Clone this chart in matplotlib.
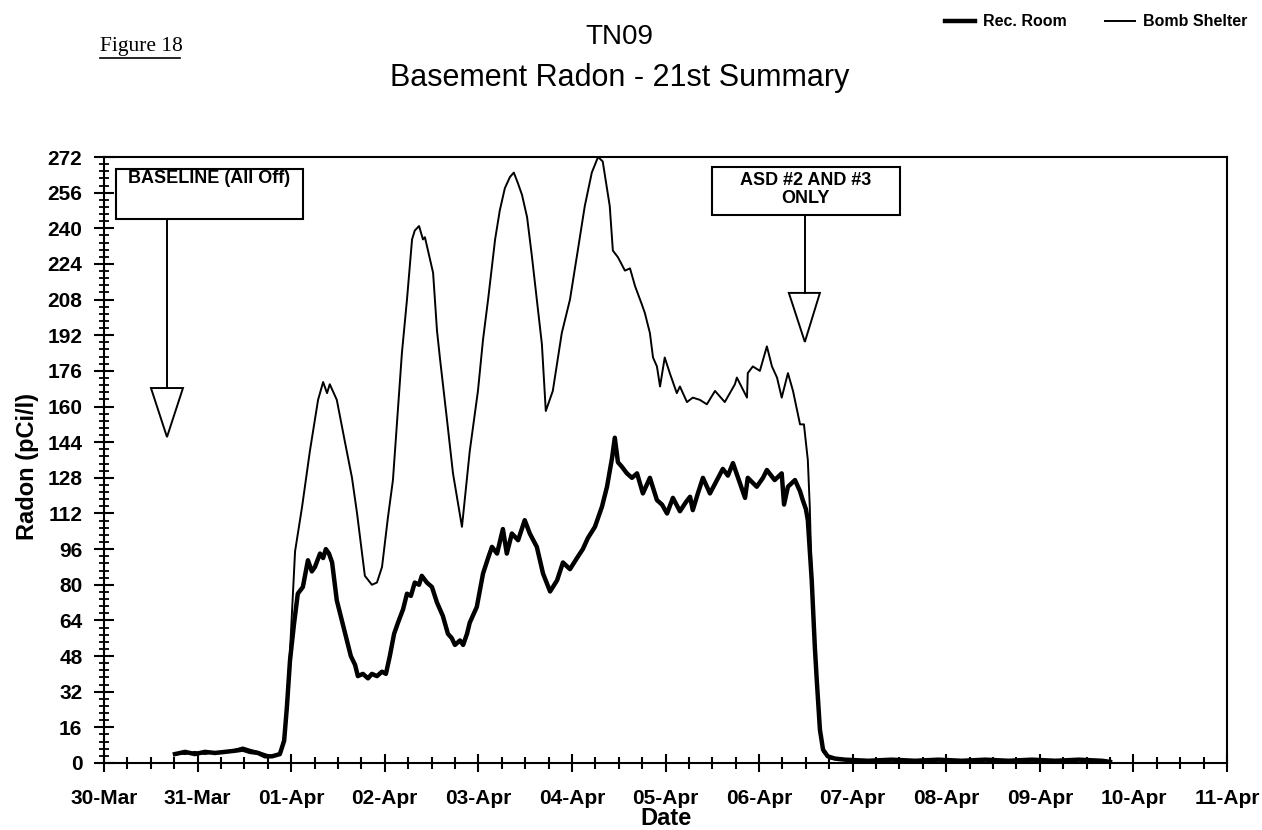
import matplotlib
matplotlib.use("Agg")
import matplotlib.pyplot as plt
from matplotlib.patches import Rectangle, Polygon
from matplotlib.ticker import FixedLocator, MultipleLocator, AutoMinorLocator
import numpy as np

plt.rcParams['font.family'] = ['Liberation Sans', 'DejaVu Sans']

# hours after 30-Mar 00:00
rec_hours = [18.2, 20.8, 23.3, 25.9, 28.5, 31.0, 33.6, 35.6, 37.4, 39.5, 41.3, 43.1, 45.1,
             46.2, 46.9, 47.7, 48.7, 49.7, 51.0, 52.3, 53.3, 54.1, 55.4, 56.2, 56.9, 57.7,
             58.5, 59.7, 61.0, 62.3, 63.3, 64.4, 65.1, 66.4, 67.7, 68.7, 70.0, 71.3, 72.3,
             73.3, 74.4, 75.4, 76.7, 77.7, 78.7, 79.7, 80.8, 81.5, 82.8, 84.1, 85.4, 86.9,
             88.2, 89.2, 90.0, 91.3, 92.1, 93.1, 93.8, 95.6, 97.2, 98.5, 99.5, 100.8, 102.3,
             103.3, 104.6, 106.2, 107.9, 109.2, 111.0, 112.6, 114.4, 116.2, 117.7, 119.5,
             121.3, 122.8, 124.1, 125.9, 127.7, 129.0, 130.3, 131.0, 131.8, 132.8, 134.1,
             135.4, 136.7, 138.2, 140.0, 141.8, 143.1, 144.4, 145.9, 147.7, 149.2, 150.3,
             151.0, 152.3, 153.6, 155.4, 156.9, 158.7, 160.0, 161.3, 162.6, 164.4, 165.1,
             167.4, 169.0, 170.0, 172.0, 173.8, 174.4, 175.4, 177.2, 178.5, 179.2, 180.0,
             180.5, 181.5, 182.3, 182.8, 183.6, 184.4, 185.6, 187.4, 190, 196, 202, 208,
             214, 220, 226, 232, 238, 244, 250, 256, 258]
rec_room = [4, 5, 4, 5, 4.5, 5, 5.5, 6, 5, 4.5, 3, 3, 4,
            10, 25, 46, 62, 76, 79, 91, 86, 88, 94, 92, 96, 94,
            90, 73, 64, 55, 48, 44, 39, 40, 38, 40, 39, 41, 40,
            48, 58, 63, 69, 76, 75, 81, 80, 84, 81, 79, 72, 66,
            58, 56, 53, 55, 53, 58, 63, 70, 85, 92, 97, 94, 105,
            94, 103, 100, 109, 103, 97, 85, 77, 82, 90, 87,
            92, 96, 101, 106, 115, 124, 137, 146, 135, 133, 130,
            128, 130, 121, 128, 118, 116, 112, 119, 113, 117, 119.5,
            113.5, 121, 128, 121, 126, 132, 129, 134.6, 128, 119, 128,
            124, 128, 131.5, 127, 130, 116, 124, 127, 122, 118, 114,
            109, 82, 52, 37, 15, 6, 3, 2, 1.5, 1, 1.5, 1,
            1.5, 1, 1.5, 1, 1.5, 1, 1.5, 1, 0.5]

bomb_hours = [18.2, 20.8, 23.3, 25.9, 28.5, 31.0, 33.6, 35.6, 37.4, 39.5, 41.3, 43.1, 45.1,
              46.2, 46.9, 47.7, 49.0, 50.8, 52.8, 54.9, 56.2, 57.2, 57.9, 59.7, 61.8, 63.6,
              64.9, 66.9, 68.7, 70.0, 71.3, 72.8, 74.1, 76.4, 77.7, 79.0, 79.7, 80.8, 81.8,
              82.3, 84.4, 85.4, 86.2, 87.9, 89.5, 91.8, 93.8, 95.9, 97.2, 98.5, 100.3, 101.5,
              102.8, 104.1, 105.1, 106.2, 107.2, 108.5, 109.7, 111.0, 112.3, 113.3, 115.1,
              117.4, 119.5, 121.5, 123.3, 125.1, 126.7, 127.9, 129.7, 130.5, 131.8, 133.6,
              134.9, 136.2, 137.9, 138.7, 140.0, 140.8, 141.8, 142.6, 143.8, 145.1, 146.9,
              147.7, 149.5, 151.0, 152.8, 154.6, 156.7, 159.2, 161.8, 162.3, 164.9, 165.1,
              166.4, 168.2, 170.0, 171.3, 172.6, 173.8, 175.4, 176.7, 178.5, 179.5, 180.5,
              181.0, 181.5, 182.3, 182.8, 183.6, 184.4, 186.2, 190, 196, 202, 208, 214, 220,
              226, 232, 238, 244, 250, 256, 258]
bomb_shelter = [4.5, 4, 5, 4, 5, 5, 6, 7, 6, 5, 4, 3, 4,
                12, 28, 50, 95, 115, 140, 163, 171, 166, 170, 163, 144, 128,
                112, 84, 80, 81, 88, 110, 127, 184, 208, 235, 239, 241, 235,
                236, 220, 194, 181, 155, 130, 106, 140, 167, 190, 208, 235, 248,
                258, 263, 265, 260, 255, 245, 228, 208, 188, 158, 167,
                193, 208, 230, 250, 265, 272, 270, 250, 230, 227, 221,
                222, 214, 206, 202, 193, 182, 178, 169, 182, 175, 166,
                169, 162, 164, 163, 161, 167, 162, 170, 173, 164, 175,
                178, 176, 187, 178, 173, 164, 175, 167, 152, 152, 136,
                115, 82, 52, 37, 15, 5, 2, 1.5, 1, 1.5, 1, 1.5, 1,
                1.5, 1, 1.5, 1, 1.5, 1, 0.5]

day_labels = ['30-Mar', '31-Mar', '01-Apr', '02-Apr', '03-Apr', '04-Apr', '05-Apr',
              '06-Apr', '07-Apr', '08-Apr', '09-Apr', '10-Apr', '11-Apr']
y_ticks = list(range(0, 273, 16))

fig = plt.figure(figsize=(12.62, 8.30), dpi=100)
ax = fig.add_axes([104/1262, 1 - 763/830, (1227 - 104)/1262, (763 - 157)/830])

rec_days = np.array(rec_hours) / 24.0
bomb_days = np.array(bomb_hours) / 24.0
l1, = ax.plot(rec_days, rec_room, color='black', lw=3.2, solid_joinstyle='round', label='Rec. Room')
l2, = ax.plot(bomb_days, bomb_shelter, color='black', lw=1.4, label='Bomb Shelter')

ax.set_xlim(0, 12)
ax.set_ylim(0, 272)
ax.xaxis.set_major_locator(FixedLocator(range(len(day_labels))))
ax.set_xticklabels(day_labels)
ax.xaxis.set_minor_locator(MultipleLocator(0.25))
ax.set_yticks(y_ticks)
ax.yaxis.set_minor_locator(AutoMinorLocator(5))

for s in ax.spines.values():
    s.set_linewidth(1.5)
ax.tick_params(axis='x', which='major', direction='inout', length=13, width=1.5, pad=12,
               labelsize=15)
ax.tick_params(axis='x', which='minor', direction='inout', length=9, width=1.5)
ax.tick_params(axis='y', which='major', direction='inout', length=15, width=1.5, pad=8,
               labelsize=15)
ax.tick_params(axis='y', which='minor', direction='inout', length=7, width=1.3)
for t in ax.get_xticklabels() + ax.get_yticklabels():
    t.set_fontweight('bold')

ax.set_xlabel('Date', fontsize=17, fontweight='bold')
ax.xaxis.set_label_coords(0.5, -0.072)
ax.set_ylabel('Radon (pCi/l)', fontsize=17, fontweight='bold')
ax.yaxis.set_label_coords(-0.058, 0.49)

# annotation boxes with hollow arrows
ax.add_patch(Rectangle((0.128, 244.2), 1.998, 22.4, fill=False, lw=1.5, ec='black'))
ax.text(1.127, 262.5, 'BASELINE (All Off)', ha='center', va='center', fontsize=13,
        fontweight='bold')
ax.plot([0.673, 0.673], [244.2, 168.3], color='black', lw=1.4)
ax.add_patch(Polygon([[0.502, 168.3], [0.844, 168.3], [0.673, 146.3]], closed=True,
                     fill=False, lw=1.4, ec='black'))

ax.add_patch(Rectangle((6.496, 246.0), 2.008, 21.5, fill=False, lw=1.5, ec='black'))
ax.text(7.5, 257.5, 'ASD #2 AND #3\nONLY', ha='center', va='center', fontsize=13,
        fontweight='bold', linespacing=1.05)
ax.plot([7.489, 7.489], [246.0, 211.0], color='black', lw=1.4)
ax.add_patch(Polygon([[7.318, 211.0], [7.650, 211.0], [7.489, 189.0]], closed=True,
                     fill=False, lw=1.4, ec='black'))

# titles
fig.text(0.491, 1 - 37/830, 'TN09', ha='center', va='center', fontsize=20)
fig.text(0.491, 1 - 78/830, 'Basement Radon - 21st Summary', ha='center', va='center',
         fontsize=22)
fig.text(100/1262, 1 - 46/830, 'Figure 18', ha='left', va='center', fontsize=15.5,
         family='Liberation Serif')
fig.add_artist(plt.Line2D([100/1262, 180/1262], [1 - 58/830, 1 - 58/830], color='black', lw=1.2))

ax.legend(handles=[l1, l2], ncol=2, loc='center right', bbox_to_anchor=(1262/1262, 1 - 22/830),
          bbox_transform=fig.transFigure, frameon=False, handlelength=1.9,
          columnspacing=2.4, handletextpad=0.5, prop={'weight': 'bold', 'size': 11.5})

fig.savefig('out.png', dpi=100)
